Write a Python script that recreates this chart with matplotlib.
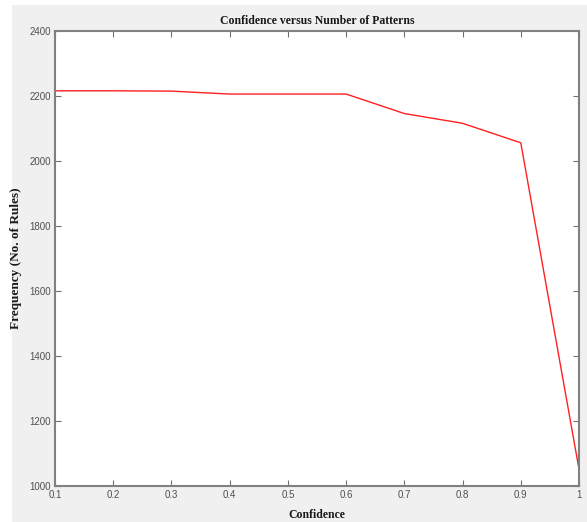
import matplotlib
matplotlib.use("Agg")
import matplotlib.pyplot as plt
from matplotlib.patches import Rectangle

confidence = [0.1, 0.2, 0.3, 0.4, 0.5, 0.6, 0.7, 0.8, 0.9, 1.0]
frequency = [2216, 2216, 2215, 2206, 2206, 2206, 2146, 2116, 2056, 1052]
xticks = [0.1, 0.2, 0.3, 0.4, 0.5, 0.6, 0.7, 0.8, 0.9, 1.0]
xticklabels = ["0.1", "0.2", "0.3", "0.4", "0.5", "0.6", "0.7", "0.8", "0.9", "1"]
yticks = [1000, 1200, 1400, 1600, 1800, 2000, 2200, 2400]

W, H = 587, 522
fig = plt.figure(figsize=(W / 100, H / 100), dpi=100)
fig.patch.set_facecolor("white")
fig.patches.append(Rectangle((12 / W, 0), 1 - 12 / W, 1 - 5 / H,
                             transform=fig.transFigure, facecolor="#f0f0f0",
                             edgecolor="none", zorder=-10))

L, R, T, B = 55, 579, 31, 486
ax = fig.add_axes([L / W, 1 - B / H, (R - L) / W, (B - T) / H])
ax.set_zorder(1)
ax.set_facecolor("white")
ax.plot(confidence, frequency, color="#ff2020", linewidth=1.0)

ax.set_xlim(0.1, 1.0)
ax.set_ylim(1000, 2400)
ax.set_xticks(xticks)
ax.set_xticklabels(xticklabels)
ax.set_yticks(yticks)

tick_family = ["Liberation Sans Narrow", "Liberation Sans", "DejaVu Sans"]
for lab in ax.get_xticklabels() + ax.get_yticklabels():
    lab.set_fontfamily(tick_family)
    lab.set_fontsize(7)
    lab.set_color("#505050")

ax.tick_params(direction="in", top=True, right=True, length=4, width=0.8,
               color="#707070", pad=3)
for s in ax.spines.values():
    s.set_color("#808080")
    s.set_linewidth(1.5)

ax.set_title("Confidence versus Number of Patterns", fontsize=8.5, fontweight="bold",
             family=["Liberation Sans Narrow", "Liberation Serif", "DejaVu Serif"],
             color="#1a1a1a", pad=5)
ax.set_xlabel("Confidence", fontsize=8.5, fontweight="bold",
              family=["Liberation Sans Narrow", "Liberation Serif", "DejaVu Serif"],
              color="#1a1a1a", labelpad=6)
ax.set_ylabel("Frequency (No. of Rules)", fontsize=9.5, fontweight="bold",
              family=["Liberation Serif", "DejaVu Serif"], color="#1a1a1a")
ax.yaxis.set_label_coords((22 - L) / (R - L), 0.5)

fig.savefig("out.png", dpi=100, facecolor=fig.get_facecolor())
